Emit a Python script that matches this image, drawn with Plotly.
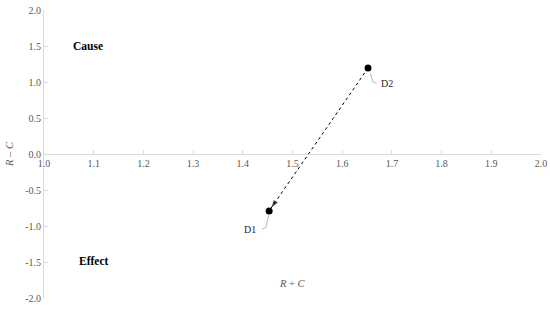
import plotly.graph_objects as go

# Data
point_names = ["D1", "D2"]
r_plus_c = [1.453, 1.652]
r_minus_c = [-0.79, 1.194]

x_ticks = [1.0, 1.1, 1.2, 1.3, 1.4, 1.5, 1.6, 1.7, 1.8, 1.9, 2.0]
x_tick_labels = ["1.0", "1.1", "1.2", "1.3", "1.4", "1.5", "1.6", "1.7", "1.8", "1.9", "2.0"]
y_ticks = [-2.0, -1.5, -1.0, -0.5, 0.0, 0.5, 1.0, 1.5, 2.0]
y_tick_labels = ["-2.0", "-1.5", "-1.0", "-0.5", "0.0", "0.5", "1.0", "1.5", "2.0"]

quadrant_labels = ["Cause", "Effect"]
quadrant_x = [1.054, 1.066]
quadrant_y = [1.5, -1.49]

FONT = "Liberation Serif"
AXIS_COL = "#d9d9d9"
TICK_COL = "#595959"
LEAD_COL = "#a6a6a6"

d1x, d2x = r_plus_c
d1y, d2y = r_minus_c

fig = go.Figure()

# dotted arrow line from D2 to D1
fig.add_trace(go.Scatter(
    x=[d2x, d1x], y=[d2y, d1y], mode="lines",
    line=dict(color="black", width=1, dash="dot"),
    hoverinfo="skip", showlegend=False))

# arrow head
fig.add_trace(go.Scatter(
    x=[d2x, d1x], y=[d2y, d1y], mode="markers",
    marker=dict(symbol=["circle", "arrow"], size=[0, 8], angleref="previous",
                standoff=[0, 4], color="black", line=dict(width=0)),
    hoverinfo="skip", showlegend=False))

# points
fig.add_trace(go.Scatter(
    x=r_plus_c, y=r_minus_c, mode="markers",
    marker=dict(symbol="circle", size=7, color="black"),
    showlegend=False))

# leader lines (pixel offsets relative to points)
fig.add_shape(type="path", xref="x", yref="y", xsizemode="pixel", ysizemode="pixel",
              xanchor=d2x, yanchor=d2y, path="M 2.3,-5 L 5,-14.4 L 8.5,-15",
              line=dict(color=LEAD_COL, width=0.8))
fig.add_shape(type="path", xref="x", yref="y", xsizemode="pixel", ysizemode="pixel",
              xanchor=d1x, yanchor=d1y, path="M -0.5,-4.5 L -3.3,-16.6 L -7,-18.3",
              line=dict(color=LEAD_COL, width=0.8))

# point labels
fig.add_annotation(x=d2x, y=d2y, text=point_names[1], showarrow=False,
                   xanchor="left", yanchor="middle", xshift=11, yshift=-15,
                   font=dict(family=FONT, size=10, color="#262626"))
fig.add_annotation(x=d1x, y=d1y, text=point_names[0], showarrow=False,
                   xanchor="right", yanchor="middle", xshift=-11, yshift=-18.3,
                   font=dict(family=FONT, size=10, color="#262626"))

# quadrant labels
for t, qx, qy in zip(quadrant_labels, quadrant_x, quadrant_y):
    fig.add_annotation(x=qx, y=qy, text="<b>" + t + "</b>", showarrow=False,
                       xanchor="left", yanchor="middle",
                       font=dict(family=FONT, size=11.5, color="black"))

# axis titles
fig.add_annotation(xref="paper", yref="paper", x=0.5, y=0.052,
                   text="<i>R</i> + <i>C</i>", showarrow=False,
                   xanchor="center", yanchor="middle",
                   font=dict(family=FONT, size=10.5, color=TICK_COL))
fig.add_annotation(xref="paper", yref="paper", x=0, y=0.5, xshift=-35,
                   text="<i>R</i> – <i>C</i>", showarrow=False, textangle=-90,
                   xanchor="center", yanchor="middle",
                   font=dict(family=FONT, size=10.5, color=TICK_COL))

fig.update_layout(
    width=550, height=316,
    margin=dict(l=44, r=9, t=10, b=18, autoexpand=False),
    paper_bgcolor="white", plot_bgcolor="white",
    font=dict(family=FONT, size=10, color=TICK_COL),
    xaxis=dict(range=[0.9999, 2.0001], tickmode="array", tickvals=x_ticks, ticktext=x_tick_labels,
               showgrid=False, zeroline=False, showline=True, linecolor=AXIS_COL,
               linewidth=1, ticks="inside", ticklen=4, tickcolor=AXIS_COL,
               anchor="free", position=0.5, side="bottom", automargin=False,
               tickfont=dict(family=FONT, size=10, color=TICK_COL)),
    yaxis=dict(range=[-2.0, 2.0], tickmode="array", tickvals=y_ticks, ticktext=y_tick_labels,
               showgrid=False, zeroline=False, showline=True, linecolor=AXIS_COL,
               linewidth=1, ticks="inside", ticklen=4, tickcolor=AXIS_COL, automargin=False,
               tickfont=dict(family=FONT, size=10, color=TICK_COL)),
)

# remove the default 8px page margin so the 550x316 figure fills the window exactly
fig.write_html("out.html", config={"displayModeBar": False},
               post_script="document.body.style.margin='0px';document.body.style.overflow='hidden';")
